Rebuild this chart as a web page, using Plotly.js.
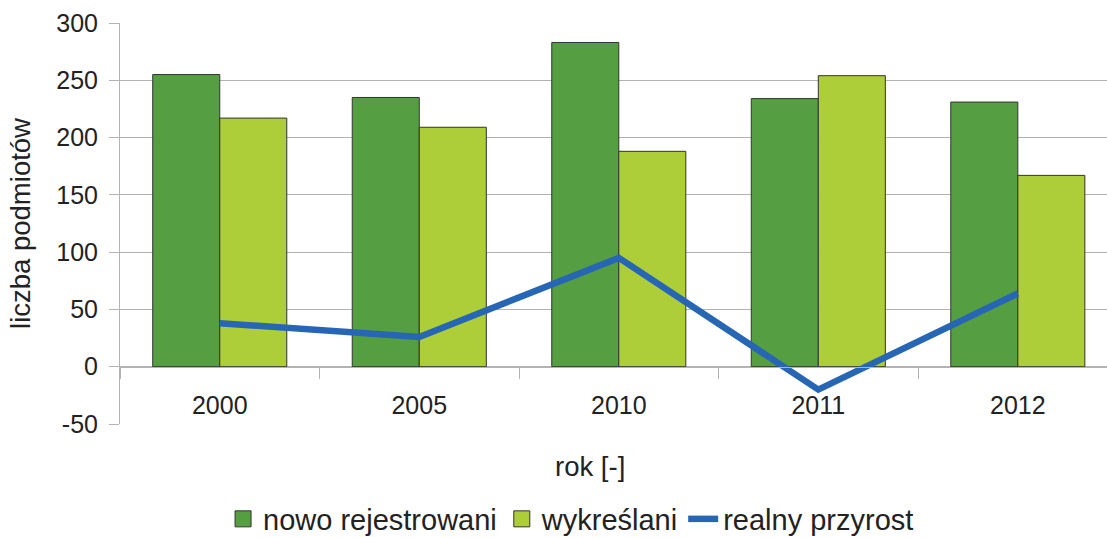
<!DOCTYPE html>
<html>
<head>
<meta charset="utf-8">
<script src="https://cdn.plot.ly/plotly-3.0.1.min.js"></script>
<style>html,body{margin:0;padding:0;background:#fff;}#chart{width:1107px;height:538px;}</style>
</head>
<body>
<div id="chart"></div>
<script>
var years = ["2000", "2005", "2010", "2011", "2012"];
var nowoRejestrowani = [255, 235, 283, 234, 231];
var wykreslani = [217, 209, 188, 254, 167];
var realnyPrzyrost = [38, 26, 95, -20, 64];
var yTickVals = [-50, 0, 50, 100, 150, 200, 250, 300];
var yTickText = ["-50", "0", "50", "100", "150", "200", "250", "300"];

var FONT = "Liberation Sans, Arial, sans-serif";
var GRID = "#b3b3b3";
var DARK = "#559e42", LIGHT = "#adce38", BLUE = "#2666b4", EDGE = "#333333";

var traces = [
  {
    type: "bar", name: "nowo rejestrowani", x: years, y: nowoRejestrowani, showlegend: false,
    marker: {color: DARK, line: {color: EDGE, width: 1}}
  },
  {
    type: "bar", name: "wykreślani", x: years, y: wykreslani, showlegend: false,
    marker: {color: LIGHT, line: {color: EDGE, width: 1}}
  },
  {
    type: "scatter", mode: "lines", name: "realny przyrost", x: years, y: realnyPrzyrost, showlegend: false,
    line: {color: BLUE, width: 6.5}
  },
  /* legend entries */
  {
    type: "scatter", mode: "markers", name: "nowo rejestrowani", x: [null], y: [null], hoverinfo: "skip",
    marker: {symbol: "square", size: 16, color: DARK, line: {color: EDGE, width: 1}}
  },
  {
    type: "scatter", mode: "markers", name: "wykreślani", x: [null], y: [null], hoverinfo: "skip",
    marker: {symbol: "square", size: 16, color: LIGHT, line: {color: EDGE, width: 1}}
  },
  {
    type: "scatter", mode: "lines", name: "realny przyrost", x: [null], y: [null], hoverinfo: "skip",
    line: {color: BLUE, width: 6.5}
  }
];

var layout = {
  width: 1107, height: 538,
  margin: {l: 120, r: 0, t: 23, b: 114},
  paper_bgcolor: "#ffffff", plot_bgcolor: "#ffffff",
  font: {family: FONT, color: "#222222", size: 25},
  barmode: "group", bargap: 0.328, bargroupgap: 0,
  showlegend: true,
  legend: {
    orientation: "h", x: 0.457, xanchor: "center", xref: "paper",
    y: 0.0353, yanchor: "middle", yref: "container",
    itemsizing: "trace",
    font: {family: FONT, size: 29, color: "#222222"}, traceorder: "normal"
  },
  xaxis: {
    type: "category", range: [-0.5, 4.447],
    anchor: "free", position: 50 / 350,
    showline: true, linecolor: GRID, linewidth: 1,
    ticks: "outside", ticklen: 11, tickcolor: GRID, tickwidth: 1,
    tickson: "boundaries", showgrid: false, zeroline: false,
    tickfont: {family: FONT, size: 25, color: "#222222"},
    ticklabelstandoff: 16
  },
  yaxis: {
    range: [-50, 300], tickmode: "array", tickvals: yTickVals, ticktext: yTickText,
    showline: true, linecolor: GRID, linewidth: 1,
    ticks: "outside", ticklen: 10, tickcolor: GRID, tickwidth: 1,
    showgrid: true, gridcolor: GRID, gridwidth: 1,
    zeroline: true, zerolinecolor: GRID, zerolinewidth: 1,
    tickfont: {family: FONT, size: 25, color: "#222222"},
    ticklabelstandoff: 6,
    title: {text: "liczba podmiotów", font: {family: FONT, size: 27.5, color: "#222222"}, standoff: 17}
  },
  annotations: [
    {
      text: "rok [-]", xref: "paper", yref: "paper", x: 0.4762, y: -0.1072,
      xanchor: "center", yanchor: "middle", showarrow: false,
      font: {family: FONT, size: 27.5, color: "#222222"}
    }
  ]
};

Plotly.newPlot("chart", traces, layout, {displayModeBar: false, staticPlot: true});
</script>
</body>
</html>
